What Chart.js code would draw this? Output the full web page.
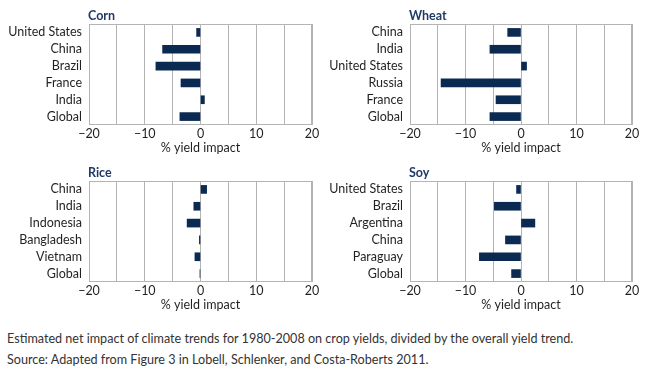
<!DOCTYPE html>
<html>
<head>
<meta charset="utf-8">
<script src="https://cdn.jsdelivr.net/npm/chart.js@4.4.0/dist/chart.umd.min.js"></script>
<style>
    html, body { margin: 0; padding: 0; background: #fff; }
    body { width: 650px; height: 374px; position: relative; overflow: hidden; }
    .panel { position: absolute; width: 325px; height: 160px; }
    .caption {
        position: absolute; left: 7px; color: #333;
        font-family: Lato, "Noto Sans", sans-serif;
        font-size: 12.6px; white-space: nowrap;
    }
</style>
</head>
<body>
<div class="panel" style="left:0;top:0"><canvas id="corn-chart"></canvas></div>
<div class="panel" style="left:325px;top:0"><canvas id="wheat-chart"></canvas></div>
<div class="panel" style="left:0;top:160px"><canvas id="rice-chart"></canvas></div>
<div class="panel" style="left:325px;top:160px"><canvas id="soy-chart"></canvas></div>
<div class="caption" style="top:331px">Estimated net impact of climate trends for 1980-2008 on crop yields, divided by the overall yield trend.</div>
<div class="caption" style="top:352px">Source: Adapted from Figure 3 in Lobell, Schlenker, and Costa-Roberts 2011.</div>

<script>
const cornLabels = ["United States", "China", "Brazil", "France", "India", "Global"];
const cornValues = [-0.7, -6.8, -8.0, -3.5, 0.7, -3.7];

const wheatLabels = ["China", "India", "United States", "Russia", "France", "Global"];
const wheatValues = [-2.4, -5.6, 1.0, -14.4, -4.5, -5.6];

const riceLabels = ["China", "India", "Indonesia", "Bangladesh", "Vietnam", "Global"];
const riceValues = [1.1, -1.2, -2.4, -0.2, -1.0, -0.1];

const soyLabels = ["United States", "Brazil", "Argentina", "China", "Paraguay", "Global"];
const soyValues = [-0.8, -4.8, 2.5, -2.8, -7.5, -1.7];

const xTickValues = [-20, -10, 0, 10, 20];
const xTickLabels = ["\u221220", "\u221210", "0", "10", "20"];

const BAR_COLOR = "#0b2a52";
const GRID_COLOR = "#b4b4b4";
const TEXT_COLOR = "#231f20";
const LABEL_FONT = "Lato, 'Noto Sans', sans-serif";

// frame around the plot + panel title over its top left corner
const panelDecor = {
    id: "panelDecor",
    afterDraw(chart, args, opts) {
        const { ctx, chartArea } = chart;
        ctx.save();
        ctx.strokeStyle = GRID_COLOR;
        ctx.lineWidth = 1;
        ctx.strokeRect(chartArea.left + 0.5, chartArea.top + 0.5,
            chartArea.right - chartArea.left - 1, chartArea.bottom - chartArea.top - 1);
        ctx.fillStyle = "#1f3a68";
        ctx.font = "bold 12.5px " + LABEL_FONT;
        ctx.textBaseline = "alphabetic";
        ctx.fillText(opts.text, chartArea.left - 1, chartArea.top - 4);
        ctx.restore();
    }
};

function MakePanel(id, title, labels, values, layout) {
    const ctx = document.getElementById(id).getContext("2d");
    return new Chart(ctx, {
        type: "bar",
        data: {
            labels: labels,
            datasets: [{
                data: values,
                backgroundColor: BAR_COLOR,
                borderWidth: 0,
                barThickness: 8
            }]
        },
        options: {
            indexAxis: "y",
            responsive: true,
            maintainAspectRatio: false,
            animation: { duration: 0 },
            layout: {
                padding: { left: 0, top: layout.top, right: layout.right, bottom: layout.bottom }
            },
            plugins: {
                legend: { display: false },
                tooltip: { enabled: false },
                panelDecor: { text: title }
            },
            scales: {
                x: {
                    min: -20,
                    max: 20,
                    afterFit: scale => { scale.height = 30; },
                    afterBuildTicks: scale => {
                        const ticks = [];
                        for (let v = -20; v <= 20; v += 5) ticks.push({ value: v });
                        scale.ticks = ticks;
                    },
                    grid: { color: GRID_COLOR, drawTicks: false },
                    border: { display: false },
                    ticks: {
                        padding: 1,
                        color: TEXT_COLOR,
                        font: { family: LABEL_FONT, size: 12.5 },
                        maxRotation: 0,
                        autoSkip: false,
                        callback: value => {
                            const i = xTickValues.indexOf(value);
                            return i === -1 ? "" : xTickLabels[i];
                        }
                    },
                    title: {
                        display: true,
                        text: "% yield impact",
                        color: TEXT_COLOR,
                        padding: 0,
                        font: { family: LABEL_FONT, size: 12.5 }
                    }
                },
                y: {
                    afterFit: scale => { scale.width = layout.axisWidth; },
                    grid: { display: false, drawTicks: false },
                    border: { display: false },
                    ticks: {
                        padding: 7,
                        autoSkip: false,
                        color: TEXT_COLOR,
                        font: { family: LABEL_FONT, size: 12.5 }
                    }
                }
            }
        },
        plugins: [panelDecor]
    });
}

MakePanel("corn-chart", "Corn", cornLabels, cornValues, { top: 24, right: 13, bottom: 5, axisWidth: 89 });
MakePanel("wheat-chart", "Wheat", wheatLabels, wheatValues, { top: 24, right: 18, bottom: 5, axisWidth: 85 });
MakePanel("rice-chart", "Rice", riceLabels, riceValues, { top: 21, right: 13, bottom: 8, axisWidth: 89 });
MakePanel("soy-chart", "Soy", soyLabels, soyValues, { top: 21, right: 18, bottom: 8, axisWidth: 85 });
</script>
</body>
</html>
